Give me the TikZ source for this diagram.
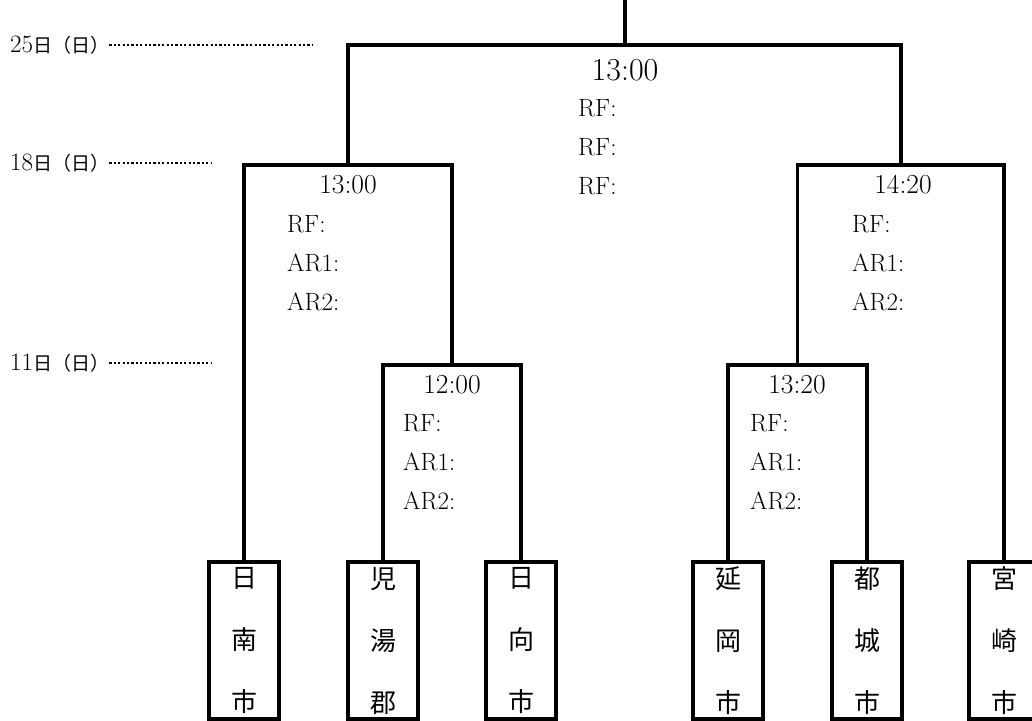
\documentclass[tikz,border=0pt]{standalone}
\usepackage{fontspec}
\newfontfamily\jp{Noto Sans CJK JP}
\usetikzlibrary{positioning}

\begin{document}
\begin{tikzpicture}[x=1pt,y=-1pt,
        br/.style={line width=3.2pt},
        team/.style={draw,line width=3.2pt,minimum width=70pt,minimum height=157pt,inner sep=0pt,
            align=center,font=\jp\fontsize{26}{62}\selectfont},
        time/.style={inner sep=0pt,font=\fontsize{27.5}{32}\selectfont},
        refs/.style={anchor=north west,inner sep=0pt,align=left,font=\fontsize{25}{39}\selectfont},
        day/.style={anchor=west,inner sep=0pt,font=\fontsize{25}{28}\selectfont},
        dots/.style={line width=2.4pt,dash pattern=on 2.2pt off 2.2pt}]
        \useasboundingbox (0,0) rectangle (1032,720);
        % teams
        \node[team] (nichinan) at (244,640.5) {日\\南\\市};
        \node[team] (koyu) at (383,640.5) {児\\湯\\郡};
        \node[team] (hyuga) at (521,640.5) {日\\向\\市};
        \node[team] (nobeoka) at (728,640.5) {延\\岡\\市};
        \node[team] (miyakonojo) at (867,640.5) {都\\城\\市};
        \node[team] (miyazaki) at (1004,640.5) {宮\\崎\\市};
        % match points
        \coordinate (qf1) at (452,365);
        \coordinate (qf2) at (797.5,365);
        \coordinate (sf1) at (348,165);
        \coordinate (sf2) at (901,165);
        \coordinate (fin) at (625,45);
        \coordinate (top) at (625,0);
        \draw[br] (koyu.north) |- (qf1) -| (hyuga.north);
        \draw[br] (nobeoka.north) |- (qf2) -| (miyakonojo.north);
        \draw[br] (nichinan.north) |- (sf1) -| (qf1);
        \draw[br] (qf2) |- (sf2) -| (miyazaki.north);
        \draw[br] (sf1) |- (fin) -| (sf2);
        \draw[br] (fin) -- (top);
        % times and officials
        \node[time,font=\fontsize{32}{38}\selectfont] (tfin) at (625,70) {13:00};
        \node[refs] (rfin) at (578,99.5) {RF:\\RF:\\RF:};
        \node[time] (tsf1) at (348,185) {13:00};
        \node[refs] (rsf1) at (287,215.5) {RF:\\AR1:\\AR2:};
        \node[time] (tsf2) at (903,185) {14:20};
        \node[refs] (rsf2) at (852,215.5) {RF:\\AR1:\\AR2:};
        \node[time] (tqf1) at (452,385) {12:00};
        \node[refs] (rqf1) at (403,414.5) {RF:\\AR1:\\AR2:};
        \node[time] (tqf2) at (797,385) {13:20};
        \node[refs] (rqf2) at (750,414.5) {RF:\\AR1:\\AR2:};
        % days
        \node[day] (d25) at (10,45) {25{\jp\fontsize{19}{22}\selectfont 日（日）}};
        \node[day] (d18) at (10,163) {18{\jp\fontsize{19}{22}\selectfont 日（日）}};
        \node[day] (d11) at (10,363) {11{\jp\fontsize{19}{22}\selectfont 日（日）}};
        \coordinate (d25e) at (313,45);
        \coordinate (d18e) at (211,163);
        \coordinate (d11e) at (211,363);
        \draw[dots] (d25) -- (d25e);
        \draw[dots] (d18) -- (d18e);
        \draw[dots] (d11) -- (d11e);
\end{tikzpicture}
\end{document}
